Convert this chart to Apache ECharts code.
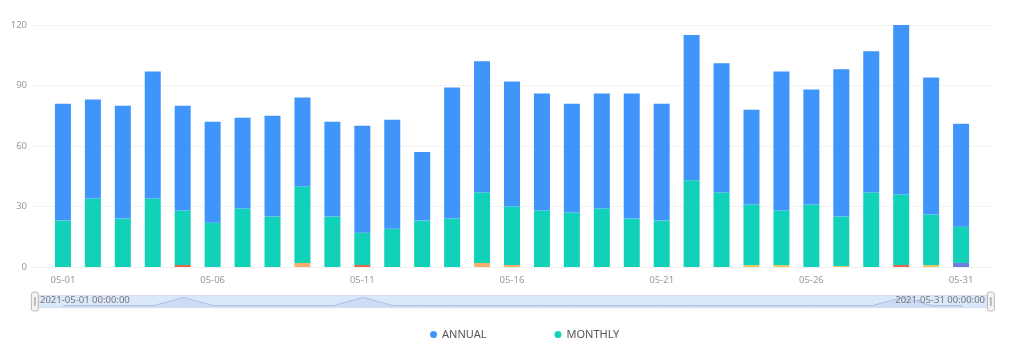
<!DOCTYPE html>
<html>
<head>
<meta charset="utf-8">
<script src="https://cdn.jsdelivr.net/npm/echarts@6/dist/echarts.min.js"></script>
<style>
html,body{margin:0;padding:0;background:#fff;}
#chart{width:1011px;height:362px;}
</style>
</head>
<body>
<div id="chart"></div>
<script>
var dates = ['2021-05-01','2021-05-02','2021-05-03','2021-05-04','2021-05-05','2021-05-06','2021-05-07','2021-05-08','2021-05-09','2021-05-10',
  '2021-05-11','2021-05-12','2021-05-13','2021-05-14','2021-05-15','2021-05-16','2021-05-17','2021-05-18','2021-05-19','2021-05-20',
  '2021-05-21','2021-05-22','2021-05-23','2021-05-24','2021-05-25','2021-05-26','2021-05-27','2021-05-28','2021-05-29','2021-05-30','2021-05-31'];
var redValues    = [0,0,0,0,1,0,0,0,0,0, 1,0,0,0,0,0,0,0,0,0, 0,0,0,0,0,0,0,0,1,0,0];
var orangeValues = [0,0,0,0,0,0,0,0,2,0, 0,0,0,0,2,1,0,0,0,0, 0,0,0,0,0,0,0,0,0,0,0];
var yellowValues = [0,0,0,0,0,0,0,0,0,0, 0,0,0,0,0,0,0,0,0,0, 0,0,0,1,1,0,0.5,0,0,1,0];
var purpleValues = [0,0,0,0,0,0,0,0,0,0, 0,0,0,0,0,0,0,0,0,0, 0,0,0,0,0,0,0,0,0,0,2];
var monthlyValues = [23,34,24,34,27,22,29,25,38,25, 16,19,23,24,35,29,28,27,29,24, 23,43,37,30,27,31,24.5,37,35,25,18];
var annualValues  = [58,49,56,63,52,50,45,50,44,47, 53,54,34,65,65,62,58,54,57,62, 58,72,64,47,69,57,73,70,84,68,51];
var padBefore = '2021-04-30';
var padAfter = '2021-06-01';
var xTickLabels = ['2021-05-01','2021-05-06','2021-05-11','2021-05-16','2021-05-21','2021-05-26','2021-05-31'];
var yMax = 120, yInterval = 30;
var zoomLabels = [dates[0] + ' 00:00:00', dates[dates.length-1] + ' 00:00:00'];

var categories = [padBefore].concat(dates).concat([padAfter]);
function padded(vals){ return [null].concat(vals).concat([null]); }

var chart = echarts.init(document.getElementById('chart'), null, {renderer:'canvas'});
var FONT = 'Noto Sans';
function bar(name, vals, color){
  return {name:name, type:'bar', stack:'total', barWidth:16, data:padded(vals),
    itemStyle:{color:color}, emphasis:{disabled:true}};
}
chart.setOption({
  animation:false,
  textStyle:{fontFamily:FONT},
  grid:{left:33, right:20, top:25, bottom:95, containLabel:false},
  legend:{data:['ANNUAL','MONTHLY'], left:425, top:324, icon:'circle', itemWidth:7, itemHeight:7, itemGap:68,
    textStyle:{color:'#555', fontSize:11, fontFamily:FONT}},
  xAxis:{type:'category', data:categories, boundaryGap:false,
    axisLine:{show:true, lineStyle:{color:'#eeeeee'}},
    axisTick:{show:false},
    splitLine:{show:false},
    axisLabel:{interval:function(i, v){ return xTickLabels.indexOf(v) >= 0; },
      formatter:function(v){ return v.slice(5); }, color:'#9a9a9a', fontSize:9.5, margin:8, fontFamily:FONT}},
  yAxis:{type:'value', min:0, max:yMax, interval:yInterval,
    axisLine:{show:false}, axisTick:{show:false},
    splitLine:{lineStyle:{color:'#f3f3f3'}},
    axisLabel:{color:'#9a9a9a', fontSize:9.5, margin:6, fontFamily:FONT}},
  dataZoom:[{type:'slider', xAxisIndex:0, left:33, right:20, top:295, height:13,
    start:0, end:100, moveHandleSize:0, brushSelect:false, showDetail:false,
    fillerColor:'rgba(135,175,240,0.3)', borderColor:'#d8e0ef',
    handleIcon:'path://M2,0h3a2,2,0,0,1,2,2v15a2,2,0,0,1-2,2h-3a2,2,0,0,1-2-2v-15a2,2,0,0,1,2-2zM3,5v9M4,5v9',
    handleSize:'145%', handleStyle:{color:'#f4f4f4', borderColor:'#b8b8b8', borderWidth:1},
    dataBackground:{lineStyle:{color:'#a9b6d2', width:0.8}, areaStyle:{color:'#d6e0f2', opacity:0.4}}}],
  graphic:[
    {type:'text', left:40, top:295, silent:true, z:100,
      style:{text:zoomLabels[0], fill:'#777', font:'9.5px "Noto Sans"'}},
    {type:'text', right:26, top:295, silent:true, z:100,
      style:{text:zoomLabels[1], fill:'#777', font:'9.5px "Noto Sans"'}}
  ],
  series:[
    bar('RED', redValues, '#e8684a'),
    bar('ORANGE', orangeValues, '#f5b06e'),
    bar('YELLOW', yellowValues, '#e3c86a'),
    bar('PURPLE', purpleValues, '#6f7fe0'),
    bar('MONTHLY', monthlyValues, '#11d1b9'),
    bar('ANNUAL', annualValues, '#3f95f9')
  ]
});
</script>
</body>
</html>
